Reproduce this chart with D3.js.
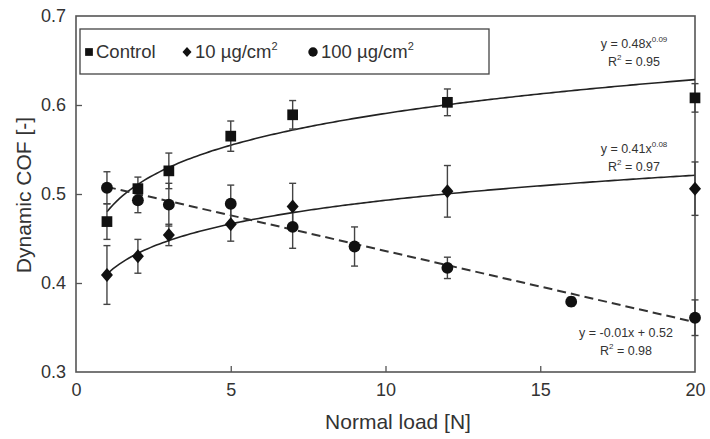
<!DOCTYPE html>
<html><head><meta charset="utf-8">
<script src="https://cdn.jsdelivr.net/npm/d3@7"></script>
<style>body{margin:0;background:#fff}svg{display:block;font-family:"Liberation Sans",Arial,sans-serif}</style>
</head><body><svg id="c" width="710" height="439"></svg>
<script>
// ---- data ----
const seriesNames = ["Control", "10 µg/cm", "100 µg/cm"];
const controlLoad = [1, 2, 3, 5, 7, 12, 20];
const controlCOF  = [0.469, 0.506, 0.526, 0.565, 0.589, 0.603, 0.608];
const controlErr  = [0.020, 0.013, 0.020, 0.017, 0.016, 0.015, 0.016];
const low10Load = [1, 2, 3, 5, 7, 12, 20];
const low10COF  = [0.409, 0.430, 0.454, 0.466, 0.486, 0.503, 0.506];
const low10Err  = [0.033, 0.019, 0.012, 0.019, 0.026, 0.029, 0.030];
const high100Load = [1, 2, 3, 5, 7, 9, 12, 16, 20];
const high100COF  = [0.507, 0.493, 0.488, 0.489, 0.463, 0.441, 0.417, 0.379, 0.361];
const high100Err  = [0.018, 0.014, 0.024, 0.021, 0.024, 0.022, 0.012, 0.005, 0.020];
// fitted trend coefficients (as drawn)
const powControl = [0.48, 0.09];
const pow10 = [0.41, 0.08];
const lin100 = [-0.008, 0.516];
const xTicks = [0, 5, 10, 15, 20];
const yTicks = [0.3, 0.4, 0.5, 0.6, 0.7];

const svg = d3.select("#c");
const x = d3.scaleLinear().domain([0, 20]).range([76, 695]);
const y = d3.scaleLinear().domain([0.3, 0.7]).range([372, 16]);
const axisCol = "#555", txt = "#333";
const FONT = '"Liberation Sans",Arial,sans-serif';

// custom diamond (taller than wide)
const diamond = (w, h) => ({ draw(ctx) { ctx.moveTo(0, -h / 2); ctx.lineTo(w / 2, 0); ctx.lineTo(0, h / 2); ctx.lineTo(-w / 2, 0); ctx.closePath(); } });

// frame
svg.append("rect").attr("x", x(0)).attr("y", y(0.7)).attr("width", x(20) - x(0)).attr("height", y(0.3) - y(0.7))
  .attr("fill", "none").attr("stroke", axisCol).attr("stroke-width", 1.6);

// axes with inward ticks
const xAxis = svg.append("g").attr("transform", `translate(0,${y(0.3)})`)
  .call(d3.axisBottom(x).tickValues(xTicks).tickSizeInner(-6).tickSizeOuter(0).tickPadding(11).tickFormat(d3.format("d")));
const yAxis = svg.append("g").attr("transform", `translate(${x(0)},0)`)
  .call(d3.axisLeft(y).tickValues(yTicks).tickSizeInner(-6).tickSizeOuter(0).tickPadding(10).tickFormat(d3.format(".1f")));
[xAxis, yAxis].forEach(a => {
  a.select(".domain").remove();
  a.selectAll("line").attr("stroke", axisCol).attr("stroke-width", 1.3);
  a.selectAll("text").attr("fill", txt).attr("font-size", 18).attr("font-family", FONT);
});
xAxis.selectAll(".tick").filter(d => d === 0 || d === 20).select("line").remove();
yAxis.selectAll(".tick").filter(d => d === 0.3 || d === 0.7).select("line").remove();

svg.append("text").attr("x", 398).attr("y", 429).attr("text-anchor", "middle").attr("font-size", 21).attr("fill", txt).text("Normal load [N]");
svg.append("text").attr("transform", `translate(31,195) rotate(-90)`).attr("text-anchor", "middle").attr("font-size", 21).attr("fill", txt).text("Dynamic COF [-]");

// trend curves
const line = d3.line().x(d => x(d[0])).y(d => y(d[1]));
const xs = d3.range(1, 20.001, 0.1);
svg.append("path").attr("d", line(xs.map(v => [v, powControl[0] * Math.pow(v, powControl[1])])))
  .attr("fill", "none").attr("stroke", "#222").attr("stroke-width", 1.6);
svg.append("path").attr("d", line(xs.map(v => [v, pow10[0] * Math.pow(v, pow10[1])])))
  .attr("fill", "none").attr("stroke", "#222").attr("stroke-width", 1.6);
svg.append("path").attr("d", line([1, 20].map(v => [v, lin100[0] * v + lin100[1]])))
  .attr("fill", "none").attr("stroke", "#333").attr("stroke-width", 2).attr("stroke-dasharray", "9,5");

// error bars
function errBars(xsArr, ys, es) {
  const g = svg.append("g").attr("stroke", "#444").attr("stroke-width", 1.4);
  xsArr.forEach((xv, i) => {
    const cx = x(xv), t = y(ys[i] + es[i]), b = y(ys[i] - es[i]);
    g.append("line").attr("x1", cx).attr("x2", cx).attr("y1", t).attr("y2", b);
    g.append("line").attr("x1", cx - 3.5).attr("x2", cx + 3.5).attr("y1", t).attr("y2", t);
    g.append("line").attr("x1", cx - 3.5).attr("x2", cx + 3.5).attr("y1", b).attr("y2", b);
  });
}
errBars(controlLoad, controlCOF, controlErr);
errBars(low10Load, low10COF, low10Err);
errBars(high100Load, high100COF, high100Err);

// markers
const sq = d3.symbol().type(d3.symbolSquare).size(115);
const di = d3.symbol().type(diamond(12, 14));
const ci = d3.symbol().type(d3.symbolCircle).size(110);
svg.append("g").selectAll("path").data(controlLoad).join("path")
  .attr("d", sq).attr("transform", (d, i) => `translate(${x(d)},${y(controlCOF[i])})`).attr("fill", "#111");
svg.append("g").selectAll("path").data(low10Load).join("path")
  .attr("d", di).attr("transform", (d, i) => `translate(${x(d)},${y(low10COF[i])})`).attr("fill", "#111");
svg.append("g").selectAll("path").data(high100Load).join("path")
  .attr("d", ci).attr("transform", (d, i) => `translate(${x(d)},${y(high100COF[i])})`).attr("fill", "#111");

// legend
svg.append("rect").attr("x", 80).attr("y", 29).attr("width", 409).attr("height", 45)
  .attr("fill", "#fff").attr("stroke", "#444").attr("stroke-width", 1.3);
const legItems = [
  { sym: d3.symbolSquare, mx: 89, tx: 96, label: seriesNames[0], sup: "" },
  { sym: diamond(9, 10), mx: 187, tx: 195, label: seriesNames[1], sup: "2" },
  { sym: d3.symbolCircle, mx: 313, tx: 321, label: seriesNames[2], sup: "2" }
];
legItems.forEach(it => {
  svg.append("path").attr("d", d3.symbol().type(it.sym).size(it.sym === d3.symbolSquare ? 60 : 70))
    .attr("transform", `translate(${it.mx},52)`).attr("fill", "#111");
  const t = svg.append("text").attr("x", it.tx).attr("y", 58).attr("font-size", 18.5).attr("fill", txt).text(it.label);
  if (it.sup) t.append("tspan").attr("dy", -8).attr("font-size", 11).text(it.sup);
});

// fit annotations
function annot(cx, by, main, sup, r2) {
  const t = svg.append("text").attr("x", cx).attr("y", by).attr("text-anchor", "middle").attr("font-size", 12.5).attr("fill", txt).text(main);
  if (sup) t.append("tspan").attr("dy", -6).attr("font-size", 8).text(sup);
  const r = svg.append("text").attr("x", cx).attr("y", by + 18).attr("text-anchor", "middle").attr("font-size", 12.5).attr("fill", txt).text("R");
  r.append("tspan").attr("dy", -6).attr("font-size", 8).text("2");
  r.append("tspan").attr("dy", 6).text(" = " + r2);
}
annot(634, 48, "y = 0.48x", "0.09", "0.95");
annot(634, 153, "y = 0.41x", "0.08", "0.97");
annot(626, 337, "y = -0.01x + 0.52", "", "0.98");
</script></body></html>
